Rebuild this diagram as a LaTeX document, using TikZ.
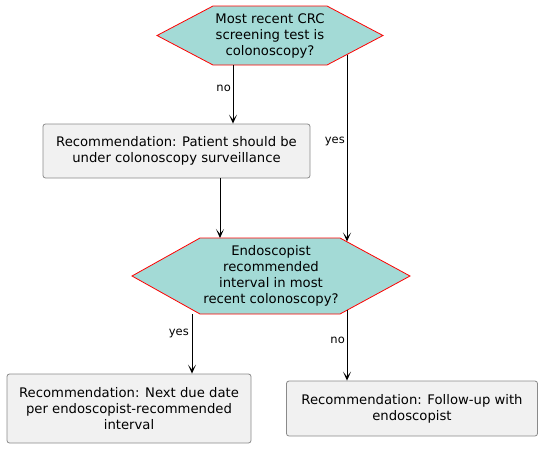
\documentclass[tikz,border=0pt]{standalone}
\usepackage{fontspec}
\setmainfont{DejaVu Sans}
\usetikzlibrary{arrows.meta}
\definecolor{hexfill}{HTML}{A3DAD6}
\definecolor{boxfill}{HTML}{F1F1F1}
\definecolor{boxline}{HTML}{8A8A8A}
\tikzset{
  hexshape/.style={draw=red, fill=hexfill, line width=0.8pt, line join=miter},
  hextext/.style={align=center, font=\fontsize{13.2}{16}\selectfont, inner sep=0pt},
  recbox/.style={draw=boxline, fill=boxfill, line width=0.8pt, rounded corners=2.5pt, align=center,
    font=\fontsize{13.2}{16}\selectfont, inner sep=0pt},
  conn/.style={draw=black, line width=0.9pt, -{Stealth[length=9pt,width=8pt,inset=5pt]}},
  lbl/.style={font=\fontsize{11.5}{13}\selectfont, anchor=east, inner sep=0pt},
}
\begin{document}
\begin{tikzpicture}[x=1pt,y=-1pt]
\useasboundingbox (0,0) rectangle (543,448);
% decision 1
\draw[hexshape] (157,35.5) -- (213,6) -- (327,6) -- (383,35.5) -- (327,65) -- (213,65) -- cycle;
\node[hextext] (d1) at (270,36) {Most recent CRC\\screening test is\\colonoscopy?};
\coordinate (d1no) at (233,65);
\coordinate (d1yes) at (347,54.5);
% box 1
\node[recbox, minimum width=267pt, minimum height=54pt] (b1) at (176.5,151) {Recommendation: Patient should be\\under colonoscopy surveillance};
% decision 2
\draw[hexshape] (132,276) -- (200,238) -- (340,238) -- (410,276) -- (340,314) -- (200,314) -- cycle;
\node[hextext] (d2) at (271,276) {Endoscopist\\recommended\\interval in most\\recent colonoscopy?};
\coordinate (d2in1) at (220,238);
\coordinate (d2in2) at (347,241.5);
\coordinate (d2yes) at (192,314);
\coordinate (d2no) at (347,310);
% bottom boxes
\node[recbox, minimum width=244pt, minimum height=69pt] (b2) at (129,408.5) {Recommendation: Next due date\\per endoscopist-recommended\\interval};
\node[recbox, minimum width=251pt, minimum height=55pt] (b3) at (412,408.5) {Recommendation: Follow-up with\\endoscopist};
% connectors
\draw[conn] (d1no) -- (d1no |- b1.north);
\draw[conn] (d1yes) -- (d2in2);
\draw[conn] (b1.south -| d2in1) -- (d2in1);
\draw[conn] (d2yes) -- (d2yes |- b2.north);
\draw[conn] (d2no) -- (d2no |- b3.north);
% labels
\node[lbl] (l1) at (231,88) {no};
\node[lbl] (l2) at (345,141) {yes};
\node[lbl] (l3) at (189,333) {yes};
\node[lbl] (l4) at (345,340) {no};
\end{tikzpicture}
\end{document}
